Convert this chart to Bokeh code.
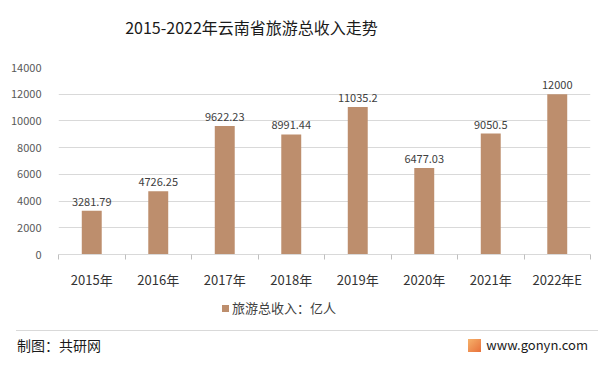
from bokeh.plotting import figure
from bokeh.models import ColumnDataSource, FixedTicker, LabelSet, Range1d, Div
from bokeh.layouts import column
from bokeh.core.properties import value
from bokeh.embed import file_html
from bokeh.resources import INLINE

categories = ["2015年", "2016年", "2017年", "2018年", "2019年", "2020年", "2021年", "2022年E"]
revenue = [3281.79, 4726.25, 9622.23, 8991.44, 11035.2, 6477.03, 9050.5, 12000]
value_labels = ["3281.79", "4726.25", "9622.23", "8991.44", "11035.2", "6477.03", "9050.5", "12000"]
y_ticks = [0, 2000, 4000, 6000, 8000, 10000, 12000, 14000]
series_name = "旅游总收入：亿人"
title_text = "2015-2022年云南省旅游总收入走势"
credit_text = "制图：共研网"
site_text = "www.gonyn.com"

FONT = "Noto Sans CJK SC"
BAR = "#BD8E6D"
W = 598

xs = list(range(1, len(categories) + 1))
src = ColumnDataSource(dict(x=xs, y=revenue, lab=value_labels))

title_div = Div(width=W, height=45, margin=0, text=(
    f'<div style="width:503px;text-align:center;font-family:\'{FONT}\';font-size:16px;'
    f'color:#1a1a1a;line-height:20px;padding-top:17px;white-space:nowrap">{title_text}</div>'))

p = figure(width=W, height=251, output_backend="svg", toolbar_location=None,
           x_range=Range1d(0.5, len(categories) + 0.5), y_range=Range1d(0, 14000),
           min_border_left=58, min_border_right=8, min_border_top=22, min_border_bottom=42,
           margin=0)
p.outline_line_color = None
p.background_fill_color = "white"
p.border_fill_color = "white"

r = p.vbar(x="x", top="y", width=0.3, source=src, fill_color=BAR, line_color=None)

labels = LabelSet(x="x", y="y", text="lab", source=src, text_align="center",
                  text_baseline="bottom", y_offset=5, text_font=value(FONT),
                  text_font_size="11px", text_color="#404040")
p.add_layout(labels)

p.xaxis.ticker = FixedTicker(ticks=xs, minor_ticks=[x + 0.5 for x in [0] + xs])
p.xaxis.major_label_overrides = {x: c for x, c in zip(xs, categories)}
p.xaxis.major_tick_out = 0
p.xaxis.major_tick_in = 0
p.xaxis.minor_tick_out = 5
p.xaxis.minor_tick_in = 0
p.xaxis.minor_tick_line_color = "#bfbfbf"
p.xaxis.axis_line_color = "#d9d9d9"
p.xaxis.major_label_text_font = FONT
p.xaxis.major_label_text_font_size = "13px"
p.xaxis.major_label_text_color = "#333333"
p.xaxis.major_label_standoff = 10

p.yaxis.ticker = FixedTicker(ticks=y_ticks)
p.yaxis.axis_line_color = None
p.yaxis.major_tick_line_color = None
p.yaxis.minor_tick_line_color = None
p.yaxis.major_label_text_font = FONT
p.yaxis.major_label_text_font_size = "11px"
p.yaxis.major_label_text_color = "#595959"
p.yaxis.major_label_standoff = 11

p.xgrid.grid_line_color = None
p.ygrid.grid_line_color = "#d9d9d9"
p.ygrid.ticker = FixedTicker(ticks=y_ticks)

legend_div = Div(width=W, height=24, margin=0, text=(
    f'<div style="padding-left:222px;line-height:24px;font-family:\'{FONT}\';font-size:13px;'
    f'color:#404040;white-space:nowrap"><span style="display:inline-block;width:7px;height:7px;'
    f'background:{BAR};margin-right:3px;vertical-align:1px"></span>{series_name}</div>'))

footer_div = Div(width=W, height=35, margin=0, text=(
    f'<div style="width:{W}px;font-family:\'{FONT}\';color:#1a1a1a">'
    f'<div style="margin:10px 0 0 16px;width:582px;border-top:1px solid #d9d9d9"></div>'
    f'<div style="display:flex;justify-content:space-between;align-items:center;'
    f'height:28px;padding:0 10px 0 17px;white-space:nowrap">'
    f'<span style="font-size:14px">{credit_text}</span>'
    f'<span style="display:flex;align-items:center;font-size:13px">'
    f'<span style="display:inline-block;width:13px;height:13px;margin-right:5px;'
    f'background:linear-gradient(135deg,#F6B26B,#E8703A)"></span>{site_text}</span></div></div>'))

layout = column(title_div, p, legend_div, footer_div, spacing=0)

open("out.html", "w").write(file_html(layout, INLINE))
